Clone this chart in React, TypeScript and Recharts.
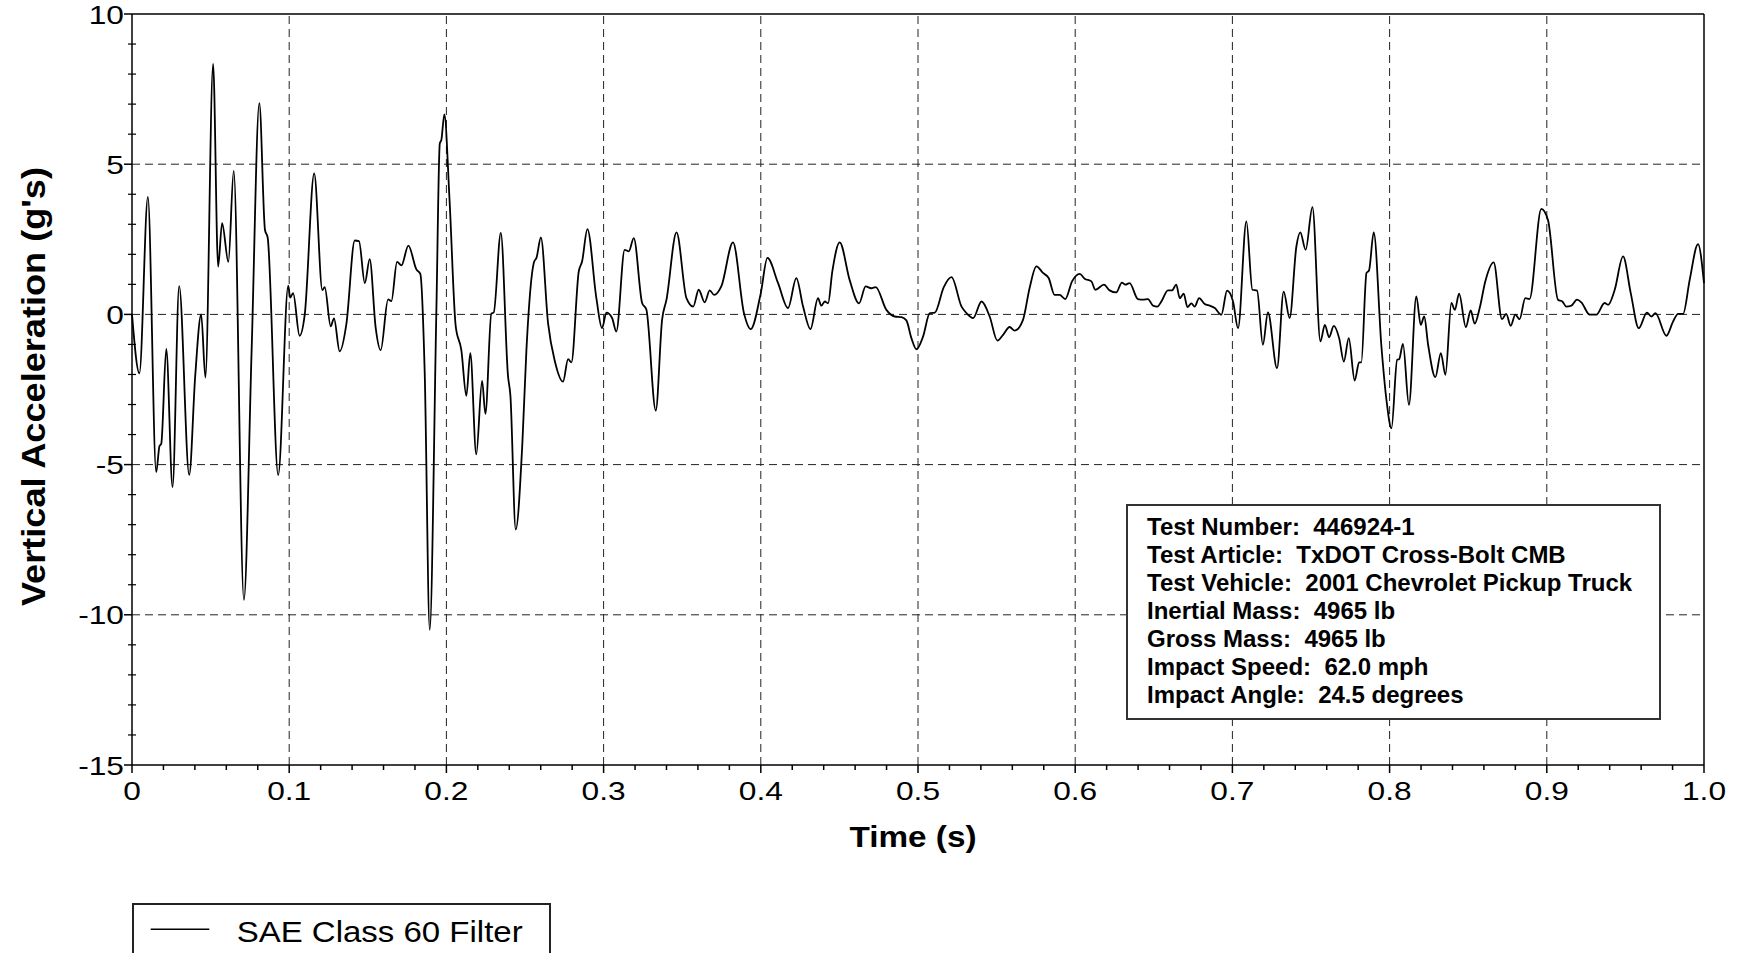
import { LineChart, Line, XAxis, YAxis, ReferenceLine } from 'recharts';

// time (s) and filtered vertical acceleration (g's)
const timeSec = [
  0, 0.0047, 0.0101, 0.0154, 0.0175, 0.0186, 0.0218, 0.0258, 0.03, 0.0364,
  0.0402, 0.044, 0.0467, 0.0516, 0.0548, 0.0573, 0.0613, 0.0647, 0.0712, 0.0761,
  0.081, 0.0846, 0.0863, 0.093, 0.0994, 0.1006, 0.1025, 0.1066, 0.1099, 0.1159,
  0.1211, 0.1226, 0.1264, 0.1285, 0.1321, 0.1364, 0.1417, 0.1444, 0.1481, 0.1512,
  0.155, 0.1582, 0.1629, 0.165, 0.1686, 0.1714, 0.1758, 0.1809, 0.1834, 0.1862,
  0.1894, 0.1936, 0.1958, 0.1968, 0.1987, 0.202, 0.2059, 0.2095, 0.2127, 0.2152,
  0.219, 0.2227, 0.2248, 0.2286, 0.2301, 0.2346, 0.2392, 0.2407, 0.2441, 0.2483,
  0.2509, 0.2558, 0.2573, 0.2601, 0.2647, 0.269, 0.2742, 0.2774, 0.2795, 0.2842,
  0.2863, 0.2897, 0.2954, 0.299, 0.3018, 0.3054, 0.3081, 0.3134, 0.316, 0.3192,
  0.3245, 0.3272, 0.3332, 0.3372, 0.34, 0.3464, 0.3527, 0.357, 0.3605, 0.3643,
  0.3675, 0.3703, 0.375, 0.3823, 0.3893, 0.3936, 0.4, 0.4042, 0.411, 0.4173,
  0.4226, 0.4269, 0.4316, 0.4364, 0.4385, 0.4407, 0.4428, 0.4455, 0.4502, 0.4565,
  0.4625, 0.4667, 0.4703, 0.4731, 0.4799, 0.4852, 0.4895, 0.4926, 0.4958, 0.499,
  0.5032, 0.5075, 0.5107, 0.5164, 0.5213, 0.5277, 0.5309, 0.5351, 0.5404, 0.5456,
  0.5505, 0.5541, 0.5583, 0.5615, 0.5668, 0.571, 0.5753, 0.5795, 0.5831, 0.5869,
  0.5901, 0.5937, 0.598, 0.6029, 0.606, 0.6103, 0.6128, 0.6183, 0.6219, 0.6261,
  0.6297, 0.6319, 0.6346, 0.6399, 0.6431, 0.6463, 0.6495, 0.6523, 0.6548, 0.659,
  0.6616, 0.6643, 0.6665, 0.669, 0.6714, 0.6739, 0.676, 0.6788, 0.6824, 0.6856,
  0.6888, 0.693, 0.6966, 0.7004, 0.7036, 0.7089, 0.7127, 0.7157, 0.7194, 0.7226,
  0.7284, 0.7326, 0.7364, 0.7407, 0.7432, 0.7466, 0.7509, 0.756, 0.7588, 0.7615,
  0.7645, 0.7679, 0.7709, 0.774, 0.7778, 0.7806, 0.782, 0.7853, 0.7869, 0.7899,
  0.7948, 0.798, 0.8012, 0.8048, 0.8061, 0.8085, 0.8123, 0.817, 0.8198, 0.822,
  0.8245, 0.8291, 0.8326, 0.8355, 0.8393, 0.8415, 0.8442, 0.8485, 0.8516, 0.8541,
  0.8573, 0.8609, 0.8662, 0.8715, 0.8742, 0.877, 0.88, 0.8827, 0.8863, 0.889,
  0.8965, 0.9008, 0.9071, 0.9099, 0.9124, 0.9156, 0.9192, 0.922, 0.9273, 0.9315,
  0.9368, 0.939, 0.9432, 0.9485, 0.9534, 0.9585, 0.9637, 0.9665, 0.9691, 0.9761,
  0.9803, 0.9835, 0.9867, 0.9909, 0.9962, 1.0,
];

const accelG = [
  0, -1.96, 3.91, -5.25, -4.38, -4.31, -1.15, -5.75, 0.94, -5.34,
  -2.06, 0.0, -2.1, 8.34, 1.59, 3.04, 1.75, 4.78, -9.5, -1.19,
  7.03, 2.81, 2.56, -5.35, 0.96, 0.56, 0.71, -0.71, 0.0, 4.69,
  0.81, 0.91, -0.4, -0.13, -1.23, -0.31, 2.46, 2.44, 1.04, 1.84,
  -0.44, -1.19, 0.5, 0.44, 1.75, 1.63, 2.29, 1.5, 1.35, -1.94,
  -10.5, 0.06, 5.69, 5.81, 6.66, 3.81, -0.38, -1.19, -2.71, -1.29,
  -4.66, -2.21, -3.31, 0.03, 0.06, 2.71, -2.06, -2.69, -7.16, -4.31,
  -1.19, 1.75, 1.88, 2.56, -0.31, -1.56, -2.24, -1.49, -1.6, 1.43,
  1.76, 2.84, 0.54, -0.46, 0.06, -0.12, -0.57, 2.15, 2.1, 2.54,
  0.38, 0.16, -3.2, -0.18, 0.49, 2.73, 0.54, 0.26, 0.82, 0.4,
  0.8, 0.65, 0.95, 2.4, 0.04, -0.49, 0.71, 1.88, 1.04, 0.21,
  1.21, 0.26, -0.49, 0.54, 0.29, 0.43, 0.37, 1.43, 2.4, 1.15,
  0.37, 0.93, 0.87, 0.91, 0.15, -0.07, -0.09, -0.2, -0.79, -1.16,
  -0.74, 0.04, 0.06, 0.91, 1.24, 0.26, 0.04, -0.12, 0.43, -0.07,
  -0.87, -0.68, -0.42, -0.54, -0.18, 0.88, 1.6, 1.38, 1.21, 0.65,
  0.65, 0.51, 1.1, 1.35, 1.19, 1.1, 0.82, 0.99, 0.8, 0.73,
  1.06, 0.99, 1.04, 0.51, 0.49, 0.51, 0.29, 0.26, 0.43, 0.8,
  0.8, 0.99, 0.54, 0.69, 0.24, 0.37, 0.26, 0.54, 0.35, 0.29,
  0.21, -0.01, 0.79, 0.43, -0.46, 3.1, 0.82, 0.79, -1.01, 0.07,
  -1.79, 0.76, -0.12, 2.26, 2.73, 2.15, 3.57, -0.9, -0.35, -0.76,
  -0.38, -0.79, -1.57, -0.79, -2.2, -1.6, -1.6, 1.38, 1.46, 2.73,
  -1.07, -2.85, -3.79, -1.51, -1.49, -0.98, -3.01, 0.6, -0.35, -0.07,
  -1.01, -2.09, -1.29, -2.01, 0.38, 0.15, 0.69, -0.42, 0.13, -0.31,
  0.21, 1.1, 1.73, -0.16, 0.02, -0.38, -0.01, -0.16, 0.54, 0.51,
  3.51, 3.13, 0.49, 0.43, 0.26, 0.29, 0.49, 0.4, -0.01, -0.01,
  0.38, 0.32, 0.82, 1.93, 0.71, -0.46, 0.06, -0.07, 0.04, -0.71,
  -0.24, 0.02, 0.02, 1.15, 2.34, 1.04,
];

const timeTicks = [0, 0.1, 0.2, 0.3, 0.4, 0.5, 0.6, 0.7, 0.8, 0.9, 1.0];
const timeTickLabels = ['0', '0.1', '0.2', '0.3', '0.4', '0.5', '0.6', '0.7', '0.8', '0.9', '1.0'];
const minorTimeTicks = Array.from({ length: 51 }, (_, i) => i / 50);

const accelTicks = [-15, -10, -5, 0, 5, 10];
const accelTickLabels = ['-15', '-10', '-5', '0', '5', '10'];
const minorAccelTicks = Array.from({ length: 26 }, (_, i) => i - 15);

const gridTimes = [0.1, 0.2, 0.3, 0.4, 0.5, 0.6, 0.7, 0.8, 0.9];
const gridAccels = [-10, -5, 0, 5];

const infoLines = [
  'Test Number:  446924-1',
  'Test Article:  TxDOT Cross-Bolt CMB',
  'Test Vehicle:  2001 Chevrolet Pickup Truck',
  'Inertial Mass:  4965 lb',
  'Gross Mass:  4965 lb',
  'Impact Speed:  62.0 mph',
  'Impact Angle:  24.5 degrees',
];

const seriesName = 'SAE Class 60 Filter';

const data = timeSec.map((t, i) => ({ t, a: accelG[i] }));

const FONT = "'Liberation Sans', Arial, sans-serif";

function majorIndex(list: number[], v: number) {
  return list.findIndex((m) => Math.abs(m - v) < 1e-6);
}

const TimeTick = (props: any) => {
  const { x, y, payload } = props;
  const idx = majorIndex(timeTicks, payload.value);
  const major = idx >= 0;
  return (
    <g>
      <line x1={x} y1={y} x2={x} y2={y + (major ? 8 : 5)} stroke="#000" strokeWidth={1.5} />
      {major && (
        <text
          transform={`translate(${x},${y + 35}) scale(1.22,1)`}
          textAnchor="middle"
          fontFamily={FONT}
          fontSize={26}
          fill="#000"
        >
          {timeTickLabels[idx]}
        </text>
      )}
    </g>
  );
};

const AccelTick = (props: any) => {
  const { x, y, payload } = props;
  const idx = majorIndex(accelTicks, payload.value);
  const major = idx >= 0;
  return (
    <g>
      {major ? (
        <line x1={x - 8} y1={y} x2={x} y2={y} stroke="#000" strokeWidth={1.5} />
      ) : (
        <line x1={x - 4} y1={y} x2={x + 4} y2={y} stroke="#000" strokeWidth={1.2} />
      )}
      {major && (
        <text
          transform={`translate(${x - 8},${y + 9.5}) scale(1.22,1)`}
          textAnchor="end"
          fontFamily={FONT}
          fontSize={26}
          fill="#000"
        >
          {accelTickLabels[idx]}
        </text>
      )}
    </g>
  );
};

const TimeTitle = (props: any) => {
  const vb = props.viewBox || {};
  return (
    <text
      x={vb.x + vb.width / 2 - 5}
      y={vb.y + 82}
      textAnchor="middle"
      fontFamily={FONT}
      fontWeight="bold"
      fontSize={30}
      textLength={127}
      lengthAdjust="spacingAndGlyphs"
      fill="#000"
    >
      Time (s)
    </text>
  );
};

const AccelTitle = (props: any) => {
  const vb = props.viewBox || {};
  return (
    <text
      transform={`translate(45,${vb.y + vb.height / 2 - 3}) rotate(-90)`}
      textAnchor="middle"
      fontFamily={FONT}
      fontWeight="bold"
      fontSize={34}
      textLength={439}
      lengthAdjust="spacingAndGlyphs"
      fill="#000"
    >
      Vertical Acceleration (g's)
    </text>
  );
};

export default function App() {
  return (
    <div style={{ position: 'absolute', left: 0, top: 0, width: 1743, height: 953, overflow: 'hidden', background: '#fff' }}>
      <LineChart width={1743} height={953} data={data} margin={{ top: 14, right: 39, bottom: 0, left: 0 }}>
        <XAxis
          dataKey="t"
          type="number"
          domain={[0, 1]}
          ticks={minorTimeTicks}
          interval={0}
          height={188}
          tickSize={0}
          tickMargin={0}
          tickLine={false}
          tick={<TimeTick />}
          axisLine={{ stroke: '#000', strokeWidth: 1.5 }}
          label={<TimeTitle />}
        />
        <YAxis
          type="number"
          domain={[-15, 10]}
          ticks={minorAccelTicks}
          interval={0}
          width={132}
          tickSize={0}
          tickMargin={0}
          tickLine={false}
          tick={<AccelTick />}
          axisLine={{ stroke: '#000', strokeWidth: 1.5 }}
          label={<AccelTitle />}
        />
        {gridAccels.map((v) => (
          <ReferenceLine key={'h' + v} y={v} stroke="#222" strokeWidth={1} strokeDasharray="8 5" />
        ))}
        {gridTimes.map((v) => (
          <ReferenceLine key={'v' + v} x={v} stroke="#222" strokeWidth={1} strokeDasharray="8 5" />
        ))}
        <ReferenceLine y={10} stroke="#000" strokeWidth={1.5} />
        <ReferenceLine x={1} stroke="#000" strokeWidth={1.5} />
        <Line
          type="monotone"
          dataKey="a"
          name={seriesName}
          stroke="#000"
          strokeWidth={1.8}
          dot={false}
          activeDot={false}
          isAnimationActive={false}
        />
      </LineChart>

      <div
        style={{
          position: 'absolute',
          left: 1126,
          top: 504,
          width: 535,
          height: 216,
          border: '2px solid #333',
          background: '#fff',
          paddingTop: 7,
          paddingLeft: 19,
          boxSizing: 'border-box',
          fontFamily: FONT,
          fontWeight: 'bold',
          fontSize: 24,
          lineHeight: '28px',
          color: '#000',
          whiteSpace: 'pre',
        }}
      >
        {infoLines.map((l) => (
          <div key={l}>{l}</div>
        ))}
      </div>

      <svg style={{ position: 'absolute', left: 132, top: 903 }} width={420} height={50}>
        <path d="M1 50 L1 1 L418 1 L418 50" fill="none" stroke="#222" strokeWidth={2} />
        <line x1={18.7} y1={26.3} x2={77.3} y2={26.3} stroke="#000" strokeWidth={1.5} />
        <text
          x={104.7}
          y={38.7}
          fontFamily={FONT}
          fontSize={29}
          textLength={286}
          lengthAdjust="spacingAndGlyphs"
          fill="#000"
        >
          {seriesName}
        </text>
      </svg>
    </div>
  );
}
